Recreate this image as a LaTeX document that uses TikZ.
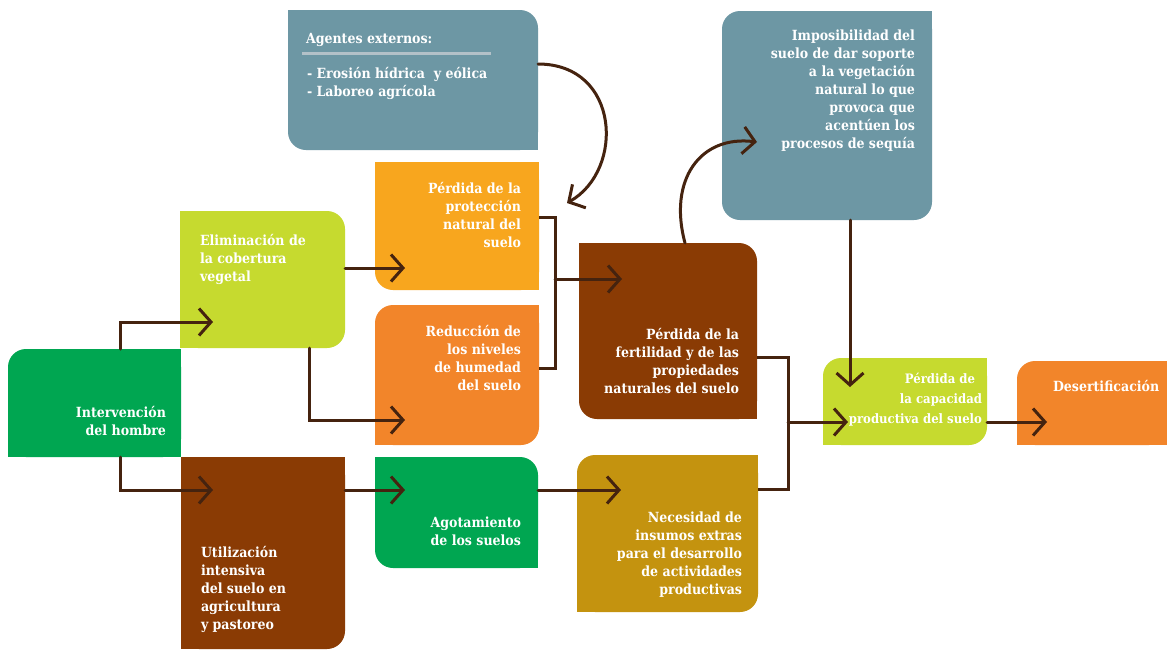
\documentclass[tikz,border=0pt]{standalone}
\usepackage{fontspec}
\setmainfont{DejaVu Serif Condensed}
\usetikzlibrary{arrows.meta,calc}
\definecolor{cBlue}{HTML}{6D97A4}
\definecolor{cLime}{HTML}{C6DA2F}
\definecolor{cGreen}{HTML}{00A651}
\definecolor{cBrown}{HTML}{8A3B04}
\definecolor{cYel}{HTML}{F8A61E}
\definecolor{cOrange}{HTML}{F2852A}
\definecolor{cGold}{HTML}{C4930F}
\definecolor{cLine}{HTML}{45230F}
\definecolor{cRule}{HTML}{B3C1C8}
\tikzset{
  bx/.style={rectangle, inner sep=0pt, outer sep=0pt, fill=#1, rounded corners=18pt},
  conn/.style={draw=cLine, line width=3pt, line cap=round, -{Straight Barb[length=12pt,width=27pt]}},
  plain/.style={draw=cLine, line width=3pt},
  txt/.style={text=white, inner sep=0pt, outer sep=0pt, font=\fontsize{14}{18}\selectfont\bfseries},
}
\newcommand\sqc[3]{\fill[#1] (#2) rectangle ++#3;}
\begin{document}
\begin{tikzpicture}[x=1pt,y=-1pt]
\fill[white] (0,0) rectangle (1167,649);
\useasboundingbox (0,0) rectangle (1167,649);
% boxes
\node[bx=cBlue, minimum width=250pt, minimum height=140pt] (ag) at (413,80) {};
\sqc{cBlue}{ag.north west}{(18,18)}\sqc{cBlue}{ag.south east}{(-18,-18)}
\node[bx=cLime, minimum width=165pt, minimum height=137pt] (elim) at (262.5,279.5) {};
\sqc{cLime}{elim.north west}{(18,18)}\sqc{cLime}{elim.south west}{(18,-18)}
\node[bx=cGreen, minimum width=173pt, minimum height=108pt] (inter) at (94.5,403) {};
\sqc{cGreen}{inter.north east}{(-18,18)}\sqc{cGreen}{inter.south east}{(-18,-18)}\sqc{cGreen}{inter.south west}{(18,-18)}
\node[bx=cBrown, minimum width=164pt, minimum height=192pt] (util) at (263,553) {};
\sqc{cBrown}{util.north west}{(18,18)}\sqc{cBrown}{util.north east}{(-18,18)}\sqc{cBrown}{util.south west}{(18,-18)}
\node[bx=cYel, minimum width=164pt, minimum height=128pt] (prot) at (457,226) {};
\sqc{cYel}{prot.north west}{(18,18)}\sqc{cYel}{prot.north east}{(-18,18)}\sqc{cYel}{prot.south east}{(-18,-18)}
\node[bx=cOrange, minimum width=164pt, minimum height=140pt] (red) at (457,375) {};
\sqc{cOrange}{red.north east}{(-18,18)}\sqc{cOrange}{red.south west}{(18,-18)}
\node[bx=cGreen, minimum width=163pt, minimum height=111pt] (agot) at (456.5,512.5) {};
\sqc{cGreen}{agot.north west}{(18,18)}\sqc{cGreen}{agot.south east}{(-18,-18)}
\node[bx=cBrown, minimum width=178pt, minimum height=176pt] (fert) at (668,331) {};
\sqc{cBrown}{fert.north west}{(18,18)}\sqc{cBrown}{fert.south east}{(-18,-18)}
\node[bx=cGold, minimum width=181pt, minimum height=157pt] (nec) at (667.5,533.5) {};
\sqc{cGold}{nec.north east}{(-18,18)}\sqc{cGold}{nec.south west}{(18,-18)}
\node[bx=cBlue, minimum width=210pt, minimum height=209pt] (imp) at (827,115.5) {};
\sqc{cBlue}{imp.north east}{(-18,18)}
\node[bx=cLime, minimum width=164pt, minimum height=87pt] (cap) at (905,401.5) {};
\sqc{cLime}{cap.north east}{(-18,18)}\sqc{cLime}{cap.south west}{(18,-18)}
\node[bx=cOrange, minimum width=150pt, minimum height=84pt] (des) at (1092,403) {};
\sqc{cOrange}{des.north east}{(-18,18)}\sqc{cOrange}{des.south east}{(-18,-18)}\sqc{cOrange}{des.south west}{(18,-18)}
% connectors
\draw[conn] ($(inter.north west)+(112,0)$) |- ($(elim.north west)+(33,111)$);
\draw[conn] ($(inter.south west)+(112,0)$) |- ($(util.north west)+(32,33)$);
\draw[conn] ($(elim.north east)+(0,57)$) -- ($(prot.south west)+(30,-22)$);
\draw[conn] ($(elim.south west)+(129,0)$) |- ($(red.west)+(30,45)$);
\draw[conn] ($(util.north east)+(0,33)$) -- ($(agot.north west)+(30,33)$);
\draw[conn] ($(agot.north east)+(0,33)$) -- ($(nec.north west)+(44,35)$);
\draw[plain] ($(prot.east)+(0,-9)$) -| ($(red.east)+(16,-7)$) -- ($(red.east)+(0,-7)$);
\draw[conn] ($(prot.east)+(16,53)$) -- ($(fert.north west)+(43,36)$);
\draw[conn] ($(ag.north east)+(0,54)$) .. controls +(82,0) and +(58,-33) .. ($(prot.north east)+(28,41)$);
\draw[conn] ($(fert.north west)+(106,0)$) .. controls +(-17,-63) and +(-57,-7) .. ($(imp.south west)+(35,-78)$);
\draw[plain] ($(fert.east)+(0,26)$) -| ($(nec.north east)+(30,34)$) -- ($(nec.north east)+(0,34)$);
\draw[conn] ($(fert.east)+(31,91)$) -- ($(cap.west)+(25,20.5)$);
\draw[conn] ($(imp.south west)+(128,0)$) -- ($(cap.north west)+(27,29)$);
\draw[conn] ($(cap.east)+(0,20.5)$) -- ($(des.west)+(30,19)$);
% texts
\node[txt, anchor=base west] (agT) at (306,43) {Agentes externos:};
\draw[cRule, line width=3pt] ($(ag.north west)+(14,43)$) -- ($(ag.north west)+(203,43)$);
\node[txt, anchor=north west, align=left] (agL) at (307,67.5) {- Erosión hídrica\ \ y eólica\\- Laboreo agrícola};
\node[txt, anchor=north west, align=left] (elimT) at (200,234.5) {Eliminación de\\la cobertura\\vegetal};
\node[txt, anchor=north east, align=right] (interT) at (166,406.5) {Intervención\\del hombre};
\node[txt, anchor=north west, align=left] (utilT) at (201,546.5) {Utilización\\intensiva\\del suelo en\\agricultura\\y pastoreo};
\node[txt, anchor=north east, align=right] (protT) at (521,182.5) {Pérdida de la\\protección\\natural del\\suelo};
\node[txt, anchor=north east, align=right] (redT) at (521,325.5) {Reducción de\\los niveles\\de humedad\\del suelo};
\node[txt, anchor=north east, align=right] (agotT) at (521,516.5) {Agotamiento\\de los suelos};
\node[txt, anchor=north east, align=right] (fertT) at (739,328.5) {Pérdida de la\\fertilidad y de las\\propiedades\\naturales del suelo};
\node[txt, anchor=north east, align=right] (necT) at (742,511.5) {Necesidad de\\insumos extras\\para el desarrollo\\de actividades\\productivas};
\node[txt, anchor=north east, align=right] (impT) at (915,29.5) {Imposibilidad del\\suelo de dar soporte\\a la vegetación\\natural lo que\\provoca que\\acentúen los\\procesos de sequía};
\node[txt, anchor=north east, align=right, font=\fontsize{13}{20}\selectfont\bfseries] (capT) at (982,373) {Pérdida de\kern7pt\\la capacidad\\productiva del suelo};
\node[txt, anchor=base west] (desT) at (1053,391) {Desertificación};
\end{tikzpicture}
\end{document}
